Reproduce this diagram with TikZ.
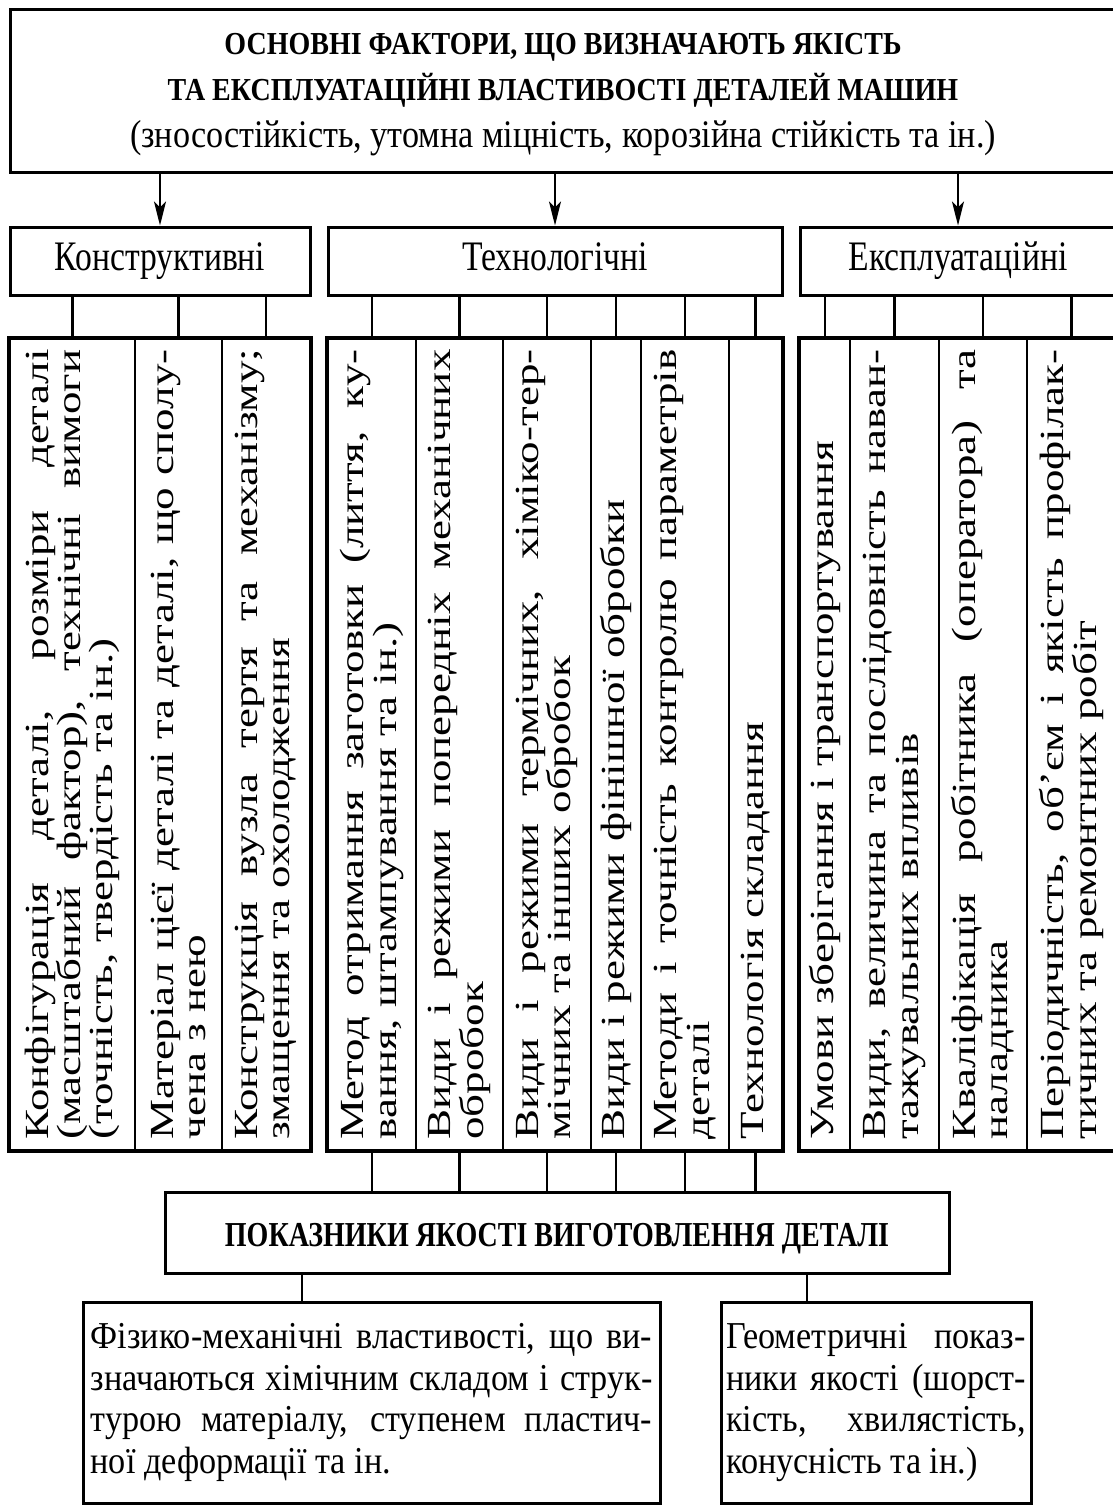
\documentclass[tikz,border=0pt]{standalone}
\usepackage{fontspec}
\setmainfont{Liberation Serif}
\usepackage{graphicx}
\usetikzlibrary{arrows.meta}
\tikzset{every picture/.style={line width=0.75pt}}
\tikzset{
  frame/.style={draw, line width=3pt, inner sep=0pt},
  column/.style={draw, line width=2.4pt, inner sep=0pt},
  tick/.style={line width=2.2pt},
  arr/.style={line width=2.2pt, -{Stealth[length=24pt,width=12pt,inset=6pt]}}
}
\newcommand{\hsq}[2][0.8]{\scalebox{#1}[1]{#2}}
\newcommand{\jl}[1]{\makebox[\linewidth][s]{#1}}
\newcommand{\vcol}[1]{\rotatebox{90}{\scalebox{1}[0.75]{\parbox{790pt}{\fontsize{45}{43}\selectfont #1}}}}
\newcommand{\hpar}[2]{\hsq[0.9]{\parbox{#1}{\fontsize{38}{41.7}\selectfont #2}}}
\newcommand{\lbl}[1]{\hsq{\fontsize{42}{48}\selectfont\vphantom{Ку}#1}}

\begin{document}
\begin{tikzpicture}[x=1pt,y=1pt,yscale=-1]
\useasboundingbox (0,0) rectangle (1113,1505);

% Text Node
\node [frame, minimum width=1106pt, minimum height=163pt] (main) at (563,90.5)
  {\hsq[0.875]{\parbox{1260pt}{\vspace{8pt}\centering\fontsize{32}{46.5}\selectfont\bfseries
  ОСНОВНІ ФАКТОРИ, ЩО ВИЗНАЧАЮТЬ ЯКІСТЬ\\
  ТА ЕКСПЛУАТАЦІЙНІ ВЛАСТИВОСТІ ДЕТАЛЕЙ МАШИН\\
  \fontsize{39}{46.5}\selectfont\mdseries
  (зносостійкість, утомна міцність, корозійна стійкість та ін.)}}};

% Text Node
\node [frame, minimum width=300pt, minimum height=68pt] (konstr) at (160,261)
  {\lbl{Конструктивні}};
% Text Node
\node [frame, minimum width=454pt, minimum height=68pt] (tech) at (555,261)
  {\lbl{Технологічні}};
% Text Node
\node [frame, minimum width=316pt, minimum height=68pt] (ekspl) at (958,261)
  {\lbl{Експлуатаційні}};

%Straight Lines
\draw [arr] (main.south -| konstr) -- (konstr.north);
\draw [arr] (main.south -| tech) -- (tech.north);
\draw [arr] (main.south -| ekspl) -- (ekspl.north);

%Shape: Rectangle
\node [column, minimum width=125pt, minimum height=811pt] (k1) at (72.5,744.5)
  {\vcol{\jl{Конфігурація деталі, розміри деталі}\\ \jl{(масштабний фактор), технічні вимоги}\\ (точність, твердість та ін.)}};
\node [column, minimum width=87pt, minimum height=811pt] (k2) at (178.5,744.5)
  {\vcol{\jl{Матеріал цієї деталі та деталі, що сполу-}\\ чена з нею}};
\node [column, minimum width=88pt, minimum height=811pt] (k3) at (266,744.5)
  {\vcol{\jl{Конструкція вузла тертя та механізму;}\\ змащення та охолодження}};
\draw [line width=3pt] (k1.north west) rectangle (k3.south east);

%Shape: Rectangle
\node [column, minimum width=88pt, minimum height=811pt] (t1) at (372,744.5)
  {\vcol{\jl{Метод отримання заготовки (лиття, ку-}\\ вання, штампування та ін.)}};
\node [column, minimum width=87pt, minimum height=811pt] (t2) at (459.5,744.5)
  {\vcol{\jl{Види і режими попередніх механічних}\\ обробок}};
\node [column, minimum width=88pt, minimum height=811pt] (t3) at (547,744.5)
  {\vcol{\jl{Види і режими термічних, хіміко-тер-}\\ мічних та інших обробок}};
\node [column, minimum width=50pt, minimum height=811pt] (t4) at (616,744.5)
  {\vcol{Види і режими фінішної обробки}};
\node [column, minimum width=88pt, minimum height=811pt] (t5) at (685,744.5)
  {\vcol{\jl{Методи і точність контролю параметрів}\\ деталі}};
\node [column, minimum width=53pt, minimum height=811pt] (t6) at (755.5,744.5)
  {\vcol{Технологія складання}};
\draw [line width=3pt] (t1.north west) rectangle (t6.south east);

%Shape: Rectangle
\node [column, minimum width=50pt, minimum height=811pt] (e1) at (825,744.5)
  {\vcol{Умови зберігання і транспортування}};
\node [column, minimum width=89pt, minimum height=811pt] (e2) at (894.5,744.5)
  {\vcol{\jl{Види, величина та послідовність наван-}\\ тажувальних впливів}};
\node [column, minimum width=88pt, minimum height=811pt] (e3) at (983,744.5)
  {\vcol{\jl{Кваліфікація робітника (оператора) та}\\ наладника}};
\node [column, minimum width=89pt, minimum height=811pt] (e4) at (1071.5,744.5)
  {\vcol{\jl{Періодичність, об’єм і якість профілак-}\\ тичних та ремонтних робіт}};
\draw [line width=3pt] (e1.north west) rectangle (e4.south east);

%Straight Lines
\draw [tick] (konstr.south -| k1) -- (k1.north);
\draw [tick] (konstr.south -| k2) -- (k2.north);
\draw [tick] (konstr.south -| k3) -- (k3.north);
\draw [tick] (tech.south -| t1) -- (t1.north);
\draw [tick] (tech.south -| t2) -- (t2.north);
\draw [tick] (tech.south -| t3) -- (t3.north);
\draw [tick] (tech.south -| t4) -- (t4.north);
\draw [tick] (tech.south -| t5) -- (t5.north);
\draw [tick] (tech.south -| t6) -- (t6.north);
\draw [tick] (ekspl.south -| e1) -- (e1.north);
\draw [tick] (ekspl.south -| e2) -- (e2.north);
\draw [tick] (ekspl.south -| e3) -- (e3.north);
\draw [tick] (ekspl.south -| e4) -- (e4.north);

% Text Node
\node [frame, minimum width=784pt, minimum height=81pt] (quality) at (557,1232.5)
  {\hsq{\fontsize{35}{40}\selectfont\bfseries\rule{0pt}{1em}ПОКАЗНИКИ ЯКОСТІ ВИГОТОВЛЕННЯ ДЕТАЛІ}};

%Straight Lines
\draw [tick] (t1.south) -- (t1.south |- quality.north);
\draw [tick] (t2.south) -- (t2.south |- quality.north);
\draw [tick] (t3.south) -- (t3.south |- quality.north);
\draw [tick] (t4.south) -- (t4.south |- quality.north);
\draw [tick] (t5.south) -- (t5.south |- quality.north);
\draw [tick] (t6.south) -- (t6.south |- quality.north);

% Text Node
\node [frame, minimum width=577pt, minimum height=201pt] (phys) at (371.5,1402.5)
  {\hpar{624pt}{\jl{Фізико-механічні властивості, що ви-}\\ \jl{значаються хімічним складом і струк-}\\ \jl{турою матеріалу, ступенем пластич-}\\ ної деформації та ін.}};
% Text Node
\node [frame, minimum width=310pt, minimum height=201pt] (geom) at (876,1402.5)
  {\hpar{333pt}{\jl{Геометричні показ-}\\ \jl{ники якості (шорст-}\\ \jl{кість, хвилястість,}\\ конусність та ін.)}};

%Straight Lines
\coordinate (q1) at (302,1273);
\coordinate (q2) at (807,1273);
\draw [tick] (q1) -- (q1 |- phys.north);
\draw [tick] (q2) -- (q2 |- geom.north);

\end{tikzpicture}
\end{document}
